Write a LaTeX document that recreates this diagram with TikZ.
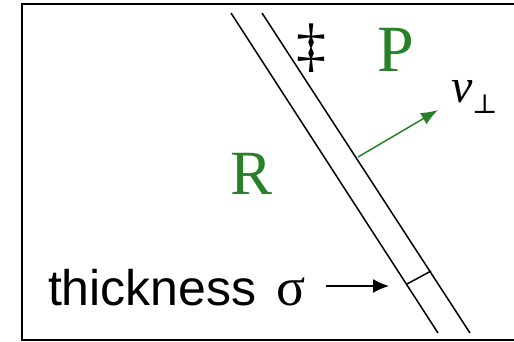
\documentclass[tikz,border=0pt]{standalone}
\usepackage{fontspec}
\setmainfont{Liberation Sans}
\newfontfamily\seriffont{Liberation Serif}
\newfontfamily\symbfont{DejaVu Serif}
\usetikzlibrary{arrows.meta}
\definecolor{leafgreen}{RGB}{40,128,40}
\begin{document}
\begin{tikzpicture}[x=1pt,y=-1pt,
  frame/.style={line width=2.6pt},
  wall/.style={line width=1.5pt},
  lbl/.style={inner sep=0pt, outer sep=0pt},
  greenarrow/.style={leafgreen, line width=1.5pt, -{Latex[length=17pt,width=13pt]}},
  blackarrow/.style={line width=1.5pt, -{Latex[length=16pt,width=14pt]}}]
\useasboundingbox (0,0) rectangle (514,342);
\draw[frame] (514,4) -- (22,4) -- (22,340) -- (514,340);
\coordinate (a1) at (231,13); \coordinate (a2) at (438,333);
\coordinate (b1) at (262,13); \coordinate (b2) at (470,333);
\draw[wall] (a1) -- (a2);
\draw[wall] (b1) -- (b2);
\coordinate (t1) at (407,284); \coordinate (t2) at (431,271);
\draw[wall] (t1) -- (t2);
\node[lbl, font=\seriffont\fontsize{66}{66}\selectfont, text=leafgreen] (P) at (396,50) {P};
\node[lbl, font=\seriffont\fontsize{63}{63}\selectfont, text=leafgreen] (R) at (252,174) {R};
\node[lbl, font=\seriffont\fontsize{60}{60}\selectfont] (dd) at (311,48) {‡};
\node[lbl, anchor=base west] (v) at (451,103) {\seriffont\itshape\fontsize{48}{48}\selectfont v};
\node[lbl, anchor=base west] (perp) at (472,114) {\symbfont\fontsize{27}{27}\selectfont ⊥};
\coordinate (vs) at (358,157);
\coordinate (vt) at (438,110);
\draw[greenarrow] (vs) -- (vt);
\node[lbl, anchor=base west] (th) at (48,305) {\fontsize{50}{50}\selectfont thickness};
\node[lbl, anchor=base west] (sg) at (276,305) {\seriffont\fontsize{54}{54}\selectfont σ};
\coordinate (as) at (326,286);
\coordinate (ae) at (389,286);
\draw[blackarrow] (as) -- (ae);
\end{tikzpicture}
\end{document}
